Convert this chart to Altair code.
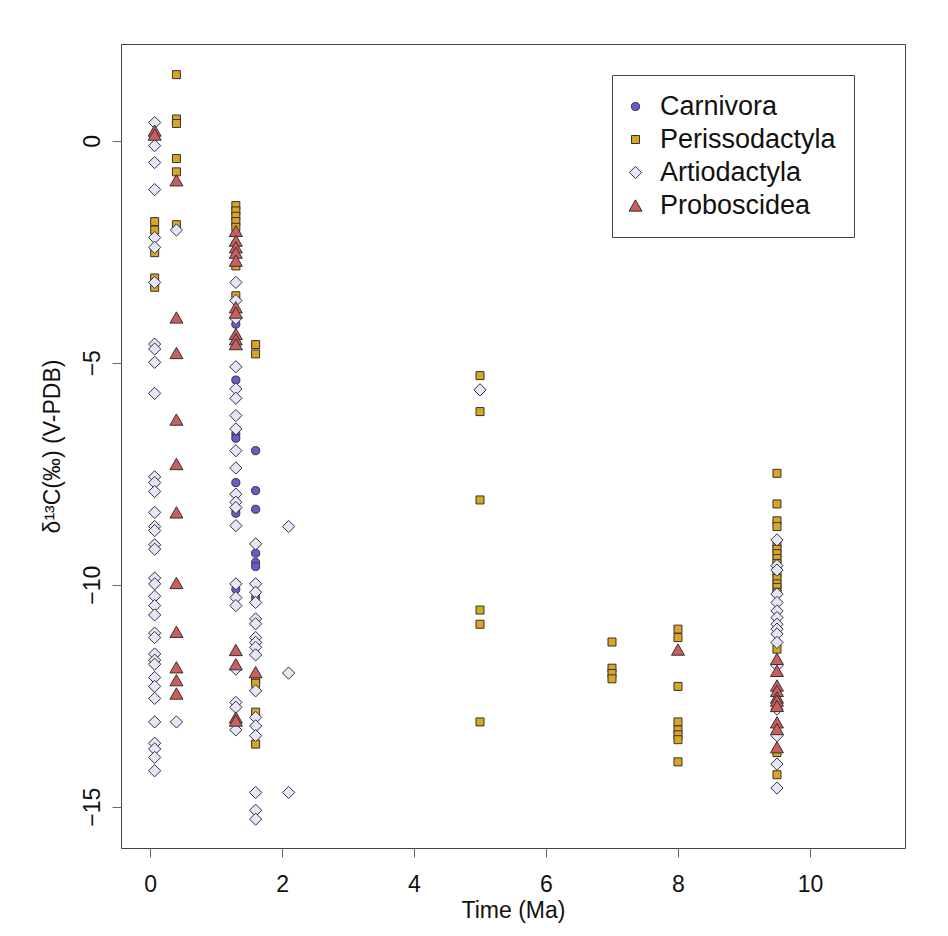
import altair as alt
import pandas as pd

SPECIES = ["Carnivora", "Perissodactyla", "Artiodactyla", "Proboscidea"]
COLORS = ["#6a5acd", "#daa520", "#e6e6fa", "#cd5c5c"]
SHAPES = ["circle", "square", "diamond", "triangle-up"]
SIZES = [66, 64, 150, 170]

X_TICKS = [0, 2, 4, 6, 8, 10]
Y_TICKS = [-15, -10, -5, 0]

# delta13C values, keyed by time (Ma)
CARNIVORA = {
    1.3: [-4.13, -5.39, -6.61, -6.70, -7.70, -8.30, -8.39, -10.10],
    1.6: [-6.98, -7.88, -8.30, -9.29, -9.50, -9.59, -10.29],
}
PERISSODACTYLA = {
    0.07: [-1.82, -2.01, -2.52, -3.09, -3.30],
    0.4: [1.49, 0.49, 0.39, -0.40, -0.70, -1.89],
    1.3: [-1.46, -1.58, -1.70, -1.82, -1.95, -2.82, -3.49],
    1.6: [-4.59, -4.80, -12.13, -12.22, -12.87, -13.59],
    5: [-5.29, -6.10, -8.09, -10.57, -10.89, -13.09],
    7: [-11.29, -11.88, -12.00, -12.12],
    8: [-11.00, -11.19, -12.29, -13.09, -13.27, -13.38, -13.49, -13.99],
    9.5: [-7.49, -8.18, -8.56, -8.69, -9.08, -9.20, -9.30, -9.41, -9.52,
          -9.63, -9.75, -9.86, -9.98, -10.06, -10.17, -11.45, -13.78, -14.28],
}
ARTIODACTYLA = {
    0.07: [0.41, -0.11, -0.49, -1.10, -2.18, -2.40, -3.19, -4.58, -4.69,
           -4.99, -5.69, -7.57, -7.70, -7.90, -8.37, -8.69, -8.78, -9.10,
           -9.20, -9.85, -9.98, -10.26, -10.47, -10.68, -11.09, -11.19,
           -11.56, -11.70, -11.79, -12.09, -12.29, -12.56, -13.09, -13.57,
           -13.70, -13.89, -14.19],
    0.4: [-2.01, -13.09],
    1.3: [-3.19, -3.60, -4.00, -5.09, -5.59, -5.80, -6.19, -6.49, -6.98,
          -7.37, -7.96, -8.14, -8.26, -8.67, -9.98, -10.29, -10.47, -11.90,
          -12.65, -12.76, -13.27],
    1.6: [-9.08, -9.98, -10.17, -10.40, -10.77, -10.88, -11.19, -11.30,
          -11.41, -11.58, -12.39, -12.99, -13.18, -13.40, -14.68, -15.08,
          -15.28],
    2.1: [-8.69, -11.99, -14.68],
    5: [-5.61],
    9.5: [-8.99, -9.57, -9.67, -10.21, -10.40, -10.59, -10.74, -10.89,
          -11.00, -11.11, -11.30, -11.82, -12.80, -13.40, -14.04, -14.58],
}
PROBOSCIDEA = {
    0.07: [0.23, 0.14],
    0.4: [-0.89, -3.98, -4.78, -6.28, -7.28, -8.37, -9.96, -11.06, -11.86,
          -12.15, -12.45],
    1.3: [-2.03, -2.25, -2.40, -2.52, -2.70, -3.75, -3.87, -4.35, -4.47,
          -4.58, -11.47, -11.79, -12.99, -13.06],
    1.6: [-11.97],
    8: [-11.46],
    9.5: [-11.67, -11.94, -12.27, -12.39, -12.54, -12.61, -12.73, -13.10,
          -13.25, -13.66],
}

rows = []
for name, table in zip(SPECIES, [CARNIVORA, PERISSODACTYLA, ARTIODACTYLA, PROBOSCIDEA]):
    for t, vals in table.items():
        for v in vals:
            rows.append({"Order": name, "Time": t, "d13C": v})
df = pd.DataFrame(rows)

FONT = "Liberation Sans"


def make_legend():
    return alt.Legend(
        title=None, orient="none", legendX=491, legendY=31,
        strokeColor="#444444", fillColor="white", padding=18,
        labelFontSize=27, labelFont=FONT, labelColor="#111111", labelLimit=0,
        rowPadding=5, labelOffset=11, symbolOffset=-8, cornerRadius=0,
        symbolStrokeColor="#333333", symbolStrokeWidth=1,
    )


chart = alt.Chart(df).mark_point(
    filled=True, stroke="#333333", strokeWidth=1, opacity=1
).encode(
    x=alt.X("Time:Q",
            scale=alt.Scale(domain=[-0.44, 11.44], nice=False, zero=False),
            axis=alt.Axis(values=X_TICKS, title="Time (Ma)", grid=False, domain=False,
                          tickSize=9, tickColor="#666666", labelPadding=16,
                          labelFontSize=23, titleFontSize=23, labelFont=FONT, titleFont=FONT,
                          labelColor="#111111", titleColor="#111111", titleFontWeight="normal",
                          titleY=62, titleBaseline="middle")),
    y=alt.Y("d13C:Q",
            scale=alt.Scale(domain=[-15.93, 2.18], nice=False, zero=False),
            axis=alt.Axis(values=Y_TICKS, title="δ¹³C(‰) (V-PDB)", grid=False, domain=False,
                          tickSize=9, tickColor="#666666", labelPadding=8,
                          labelAngle=270, labelAlign="center", labelBaseline="bottom",
                          labelFontSize=23, titleFontSize=23, labelFont=FONT, titleFont=FONT,
                          labelColor="#111111", titleColor="#111111", titleFontWeight="normal",
                          titleAngle=270, titleX=-69, titleY=402, titleBaseline="middle",
                          titleAlign="center")),
    color=alt.Color("Order:N", scale=alt.Scale(domain=SPECIES, range=COLORS),
                    legend=make_legend()),
    shape=alt.Shape("Order:N", scale=alt.Scale(domain=SPECIES, range=SHAPES),
                    legend=make_legend()),
    size=alt.Size("Order:N", scale=alt.Scale(type="ordinal", domain=SPECIES, range=SIZES),
                  legend=make_legend()),
).properties(
    width=784, height=804,
    background="white",
    autosize=alt.AutoSizeParams(type="none"),
    padding={"left": 113, "top": 36, "right": 27, "bottom": 80},
).configure_view(
    stroke="#444444", strokeWidth=1
)

chart.save("out.html", embed_options={"renderer": "svg", "actions": False})
